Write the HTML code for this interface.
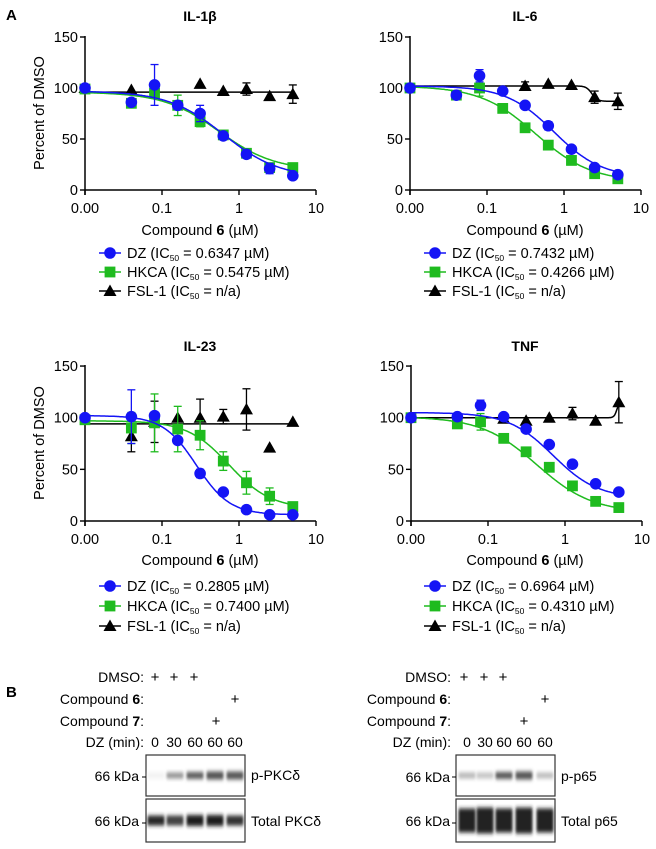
<!DOCTYPE html>
<html><head><meta charset="utf-8"><style>
html,body{margin:0;padding:0;background:#fff}
svg{display:block;font-family:"Liberation Sans",Arial,sans-serif}
</style></head><body>
<svg id="s" width="656" height="849" viewBox="0 0 656 849" xmlns="http://www.w3.org/2000/svg">
<defs>
<filter id="bl" x="-20%" y="-60%" width="140%" height="220%"><feGaussianBlur stdDeviation="1.4 2"/></filter>
</defs>
<text x="6" y="20" font-size="15" font-weight="bold">A</text>
<text x="6" y="697" font-size="15" font-weight="bold">B</text>
<g font-size="14" font-weight="bold" text-anchor="middle">
<text x="200" y="21">IL-1β</text><text x="525" y="21">IL-6</text>
<text x="200" y="351">IL-23</text><text x="525" y="351">TNF</text>
</g>
<g font-size="14.5">
<text transform="translate(44,113) rotate(-90)" text-anchor="middle">Percent of DMSO</text>
<text transform="translate(44,443) rotate(-90)" text-anchor="middle">Percent of DMSO</text>
<text x="200" y="235" text-anchor="middle">Compound <tspan font-weight="bold">6</tspan> (µM)</text>
<text x="525" y="235" text-anchor="middle">Compound <tspan font-weight="bold">6</tspan> (µM)</text>
<text x="200" y="565" text-anchor="middle">Compound <tspan font-weight="bold">6</tspan> (µM)</text>
<text x="525" y="565" text-anchor="middle">Compound <tspan font-weight="bold">6</tspan> (µM)</text>
</g>
<g id="g"></g>
<g font-size="14.5">
<text x="127" y="258">DZ (IC<tspan font-size="8.5" dy="3">50</tspan><tspan dy="-3"> = 0.6347 µM)</tspan></text>
<text x="127" y="277">HKCA (IC<tspan font-size="8.5" dy="3">50</tspan><tspan dy="-3"> = 0.5475 µM)</tspan></text>
<text x="127" y="296">FSL-1 (IC<tspan font-size="8.5" dy="3">50</tspan><tspan dy="-3"> = n/a)</tspan></text>
<text x="452" y="258">DZ (IC<tspan font-size="8.5" dy="3">50</tspan><tspan dy="-3"> = 0.7432 µM)</tspan></text>
<text x="452" y="277">HKCA (IC<tspan font-size="8.5" dy="3">50</tspan><tspan dy="-3"> = 0.4266 µM)</tspan></text>
<text x="452" y="296">FSL-1 (IC<tspan font-size="8.5" dy="3">50</tspan><tspan dy="-3"> = n/a)</tspan></text>
<text x="127" y="591">DZ (IC<tspan font-size="8.5" dy="3">50</tspan><tspan dy="-3"> = 0.2805 µM)</tspan></text>
<text x="127" y="611">HKCA (IC<tspan font-size="8.5" dy="3">50</tspan><tspan dy="-3"> = 0.7400 µM)</tspan></text>
<text x="127" y="631">FSL-1 (IC<tspan font-size="8.5" dy="3">50</tspan><tspan dy="-3"> = n/a)</tspan></text>
<text x="452" y="591">DZ (IC<tspan font-size="8.5" dy="3">50</tspan><tspan dy="-3"> = 0.6964 µM)</tspan></text>
<text x="452" y="611">HKCA (IC<tspan font-size="8.5" dy="3">50</tspan><tspan dy="-3"> = 0.4310 µM)</tspan></text>
<text x="452" y="631">FSL-1 (IC<tspan font-size="8.5" dy="3">50</tspan><tspan dy="-3"> = n/a)</tspan></text>
</g>
<g id="ticks" font-size="14.5"></g>
<g font-size="14" text-anchor="end">
<text x="144" y="682">DMSO:</text>
<text x="144" y="704">Compound <tspan font-weight="bold">6</tspan>:</text>
<text x="144" y="726">Compound <tspan font-weight="bold">7</tspan>:</text>
<text x="144" y="747">DZ (min):</text>
<text x="139" y="781">66 kDa</text>
<text x="139" y="826">66 kDa</text>
<text x="451" y="682">DMSO:</text>
<text x="451" y="704">Compound <tspan font-weight="bold">6</tspan>:</text>
<text x="451" y="726">Compound <tspan font-weight="bold">7</tspan>:</text>
<text x="451" y="747">DZ (min):</text>
<text x="450" y="782">66 kDa</text>
<text x="450" y="826">66 kDa</text>
</g>
<g font-size="14">
<text x="251" y="780">p-PKCδ</text><text x="251" y="826">Total PKCδ</text>
<text x="561" y="781">p-p65</text><text x="561" y="826">Total p65</text>
</g>
<g font-size="15" text-anchor="middle">
<text x="155" y="682">+</text><text x="174" y="682">+</text><text x="194" y="682">+</text>
<text x="235" y="704">+</text><text x="216" y="726">+</text>
<text x="464" y="682">+</text><text x="484" y="682">+</text><text x="503" y="682">+</text>
<text x="545" y="704">+</text><text x="524" y="726">+</text>
</g>
<g font-size="14" text-anchor="middle">
<text x="155" y="747">0</text><text x="174" y="747">30</text><text x="195" y="747">60</text><text x="215" y="747">60</text><text x="235" y="747">60</text>
<text x="467" y="747">0</text><text x="485" y="747">30</text><text x="504" y="747">60</text><text x="524" y="747">60</text><text x="545" y="747">60</text>
</g>
<g id="blots"></g>
</svg>
<script>
var NS="http://www.w3.org/2000/svg",G=document.getElementById('g'),T=document.getElementById('ticks'),B=document.getElementById('blots');
function el(p,t,a,txt){var e=document.createElementNS(NS,t);for(var k in a)e.setAttribute(k,a[k]);if(txt!=null)e.textContent=txt;p.appendChild(e);return e;}
var BLUE="#1414f5",GREEN="#1fbb1f";
var C=[0,0.04,0.08,0.16,0.3125,0.625,1.25,2.5,5];
function marker(p,type,x,y,col){
 if(type==0)el(p,'circle',{cx:x,cy:y,r:5.8,fill:col});
 else if(type==1)el(p,'rect',{x:x-5.4,y:y-5.4,width:10.8,height:10.8,fill:col});
 else el(p,'path',{d:'M'+x+','+(y-6.5)+'L'+(x+6.5)+','+(y+5)+'L'+(x-6.5)+','+(y+5)+'Z',fill:col});
}
function panel(ax,y0,ppu,series){
 var X=function(c){return c==0?ax:ax+154+77*Math.log10(c);},Y=function(v){return y0-v*ppu;};
 el(G,'line',{x1:ax,y1:Y(150)-1,x2:ax,y2:y0+5,stroke:'#000','stroke-width':1.5});
 el(G,'line',{x1:ax,y1:y0,x2:ax+231,y2:y0,stroke:'#000','stroke-width':1.5});
 [0,50,100,150].forEach(function(v){el(G,'line',{x1:ax-5,y1:Y(v),x2:ax,y2:Y(v),stroke:'#000','stroke-width':1.4});
  el(T,'text',{x:ax-7,y:Y(v)+5,'text-anchor':'end'},String(v));});
 [[0,'0.00'],[77,'0.1'],[154,'1'],[231,'10']].forEach(function(t){el(G,'line',{x1:ax+t[0],y1:y0,x2:ax+t[0],y2:y0+5,stroke:'#000','stroke-width':1.4});
  el(T,'text',{x:ax+t[0],y:y0+23,'text-anchor':'middle'},t[1]);});
 series.forEach(function(s){
  var d='';for(var i=0;i<=200;i++){var lx=-2+i*(Math.log10(5)+2)/200,c=Math.pow(10,lx);var v=s.f(c);d+=(i?'L':'M')+X(c).toFixed(1)+','+Y(v).toFixed(1);}
  el(G,'path',{d:d,fill:'none',stroke:s.col,'stroke-width':1.5});
  s.d.forEach(function(v,i){if(v==null)return;var x=X(C[i]),y=Y(v),e=s.e&&s.e[i];
   if(e){el(G,'line',{x1:x,y1:Y(v+e),x2:x,y2:Y(v-e),stroke:s.col,'stroke-width':1.3});
    el(G,'line',{x1:x-4,y1:Y(v+e),x2:x+4,y2:Y(v+e),stroke:s.col,'stroke-width':1.3});
    el(G,'line',{x1:x-4,y1:Y(v-e),x2:x+4,y2:Y(v-e),stroke:s.col,'stroke-width':1.3});}
   marker(G,s.t,x,y,s.col);});
 });
}
function sig(top,bot,ic,h){return function(c){return bot+(top-bot)/(1+Math.pow(c/ic,h));};}
function flat(v){return function(){return v;};}
[[110,253],[435,253],[110,586],[435,586]].forEach(function(p){
 [BLUE,GREEN,'#000'].forEach(function(col,i){var y=p[1]+i*(p[1]>500?20:19);
  el(G,'line',{x1:p[0]-11,y1:y,x2:p[0]+11,y2:y,stroke:col,'stroke-width':1.5});marker(G,i,p[0],y,col);});});
panel(85,190,1.02,[
 {col:'#000',t:2,f:flat(96),d:[100,98,null,null,104,97,99,92,94],e:[0,0,0,0,0,0,6,0,9]},
 {col:GREEN,t:1,f:sig(96,19,0.55,1.2),d:[99,85,95,83,67,54,36,22,22],e:[0,0,0,10,5,0,0,0,0]},
 {col:BLUE,t:0,f:sig(97,12,0.63,1.2),d:[100,86,103,83,75,53,35,21,14],e:[0,0,20,0,8,0,0,5,0]}]);
panel(410,190,1.02,[
 {col:'#000',t:2,f:function(c){return 102-15/(1+Math.pow(c/2.3,-12));},d:[null,null,null,null,102,104,103,91,87],e:[0,0,0,0,4,0,0,6,8]},
 {col:GREEN,t:1,f:sig(102,8,0.43,1.2),d:[100,93,100,80,61,44,29,16,11],e:[0,0,8,0,0,0,0,0,0]},
 {col:BLUE,t:0,f:sig(102,12,0.74,1.4),d:[100,93,112,97,83,63,40,22,15],e:[0,0,6,0,0,4,0,0,0]}]);
panel(85,521,1.033,[
 {col:'#000',t:2,f:flat(94),d:[null,82,96,100,100,101,108,71,96],e:[0,15,20,0,18,7,20,0,0]},
 {col:GREEN,t:1,f:sig(97,12,0.74,1.6),d:[98,90,95,89,83,58,37,24,14],e:[0,15,28,22,14,9,11,8,0]},
 {col:BLUE,t:0,f:sig(102,6,0.28,2),d:[100,101,102,78,46,28,11,6,6],e:[0,26,0,0,4,0,0,0,0]}]);
panel(411,521,1.033,[
 {col:'#000',t:2,f:function(c){return 100+15/(1+Math.pow(c/4.7,-25));},d:[null,null,null,99,97,100,104,97,115],e:[0,0,0,0,0,0,6,0,20]},
 {col:GREEN,t:1,f:sig(101,8,0.43,1.2),d:[100,94,96,80,67,52,34,19,13],e:[0,0,8,0,0,0,0,0,0]},
 {col:BLUE,t:0,f:sig(105,22,0.70,1.5),d:[100,101,112,101,89,74,55,36,28],e:[0,0,5,0,0,0,0,0,0]}]);
function blot(x0,lanes,r1,r2){
 [[755,796,r1],[799,842,r2]].forEach(function(b){
  el(B,'rect',{x:x0,y:b[0],width:99,height:b[1]-b[0],fill:'#fff',stroke:'#333','stroke-width':1.2});
  var cy=(b[0]+b[1])/2;
  b[2].forEach(function(v,i){if(!v)return;var g=255-Math.round(v[0]*240);
   el(B,'rect',{x:lanes[i]-8.5,y:cy-v[1]/2,width:17,height:v[1],rx:1,fill:'rgb('+g+','+g+','+g+')',filter:'url(#bl)'});});
 });
 el(B,'line',{x1:x0-4,y1:777,x2:x0,y2:777,stroke:'#000'});
 el(B,'line',{x1:x0-4,y1:823,x2:x0,y2:823,stroke:'#000'});
}
blot(146,[156,175,195,215,235],[[0.06,6],[0.45,6],[0.68,7],[0.72,8],[0.7,8]],[[0.9,10],[0.8,10],[0.95,11],[0.95,11],[0.85,10]]);
blot(456,[467,485,504,524,545],[[0.3,6],[0.25,6],[0.7,7],[0.7,8],[0.28,6]],[[0.93,24],[0.93,26],[0.93,24],[0.93,26],[0.93,24]]);
</script>
</body></html>
